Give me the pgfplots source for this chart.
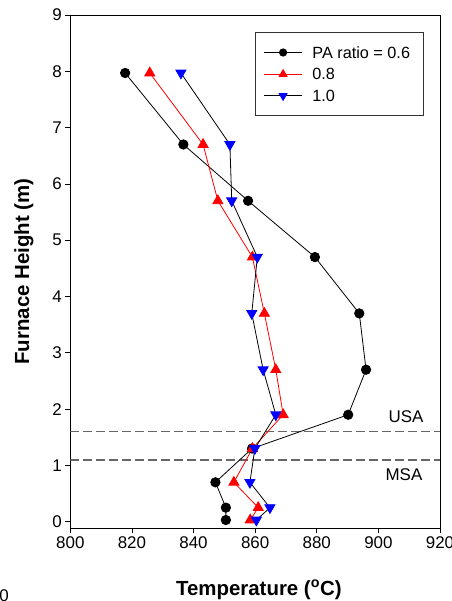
\documentclass[border=0pt]{standalone}
\usepackage{fontspec}
\setmainfont{Liberation Sans}
\usepackage{pgfplots}
\pgfplotsset{compat=1.18}

\definecolor{dashgray}{HTML}{666666}
\definecolor{framegray}{HTML}{333333}

\begin{document}
\begin{tikzpicture}
\path[use as bounding box] (-70.3bp,-72.7bp) rectangle (381.7bp,528.3bp);
\begin{axis}[
  scale only axis,
  width=369.7bp, height=513.3bp,
  xmin=800, xmax=920, ymin=-0.117, ymax=9,
  xtick={800,820,...,920}, ytick={0,1,...,9},
  tick align=outside, xtick pos=left, ytick pos=left,
  major tick length=5bp,
  tick style={black, line width=0.8bp},
  axis line style={black, line width=0.8bp},
  ticklabel style={font=\fontsize{17}{20}\selectfont},
  /pgf/number format/assume math mode=true,
  /pgf/number format/1000 sep={},
  xlabel={Temperature (\textsuperscript{o}C)},
  ylabel={Furnace Height (m)},
  label style={font=\fontsize{20.5}{24}\selectfont\bfseries},
  xlabel style={at={(axis description cs:0.51,-0.13)}, anchor=base},
  ylabel style={at={(axis description cs:-0.1117,0.5)}, anchor=base},
  legend style={at={(rel axis cs:0.4996,0.9661)}, anchor=north west,
    draw=framegray, line width=0.8bp,
    font=\fontsize{16.3}{19}\selectfont,
    inner xsep=8bp, inner ysep=11.2bp, row sep=4.7bp, column sep=8.6bp,
    nodes={inner sep=1bp, text height=13bp, text depth=2bp}},
  legend cell align=left,
  legend image code/.code={\draw[mark repeat=2,mark phase=2,
      /tikz/every mark/.append style={scale=0.78}]
      plot coordinates {(0bp,0bp) (19.3bp,0bp) (38.6bp,0bp)};},
]
% zone boundaries
\addplot[dashgray, line width=1.5bp, dash pattern=on 8.5bp off 4.5bp, forget plot]
  coordinates {(800,1.6) (920,1.6)};
\addplot[dashgray, line width=1.5bp, dash pattern=on 8.5bp off 4.5bp, forget plot]
  coordinates {(800,1.1) (920,1.1)};

% PA ratio = 0.6
\addplot[black, line width=0.8bp, mark=*, mark size=4.7bp, mark options={fill=black, draw=black}]
  coordinates {(817.8,7.97) (836.7,6.70) (857.7,5.70) (879.4,4.70) (893.8,3.70) (896.0,2.70)
               (890.2,1.90) (859.0,1.30) (847.1,0.70) (850.5,0.25) (850.5,0.03)};
\addlegendentry{PA ratio = 0.6\hspace*{4bp}}

% PA ratio = 0.8
\addplot[red, line width=0.8bp, mark=triangle*, mark size=5.8bp, mark options={fill=red, draw=red}]
  coordinates {(825.8,7.97) (843.1,6.70) (847.9,5.70) (859.1,4.70) (863.0,3.70) (866.7,2.70)
               (869.1,1.90) (859.1,1.30) (853.1,0.70) (861.0,0.25) (858.4,0.03)};
\addlegendentry{0.8}

% PA ratio = 1.0
\addplot[black, line width=0.8bp, mark=triangle*, mark size=5.8bp, mark options={fill=blue, draw=blue, rotate=180}]
  coordinates {(835.9,7.97) (851.8,6.70) (852.4,5.70) (860.7,4.70) (858.9,3.70) (862.6,2.70)
               (866.7,1.90) (859.9,1.30) (858.3,0.70) (864.8,0.25) (860.4,0.03)};
\addlegendentry{1.0}

\node[font=\fontsize{17}{20}\selectfont] at (axis cs:909,1.865) {USA};
\node[font=\fontsize{17}{20}\selectfont] at (axis cs:908.3,0.83) {MSA};
\end{axis}
\node[anchor=base west, inner sep=0pt, font=\fontsize{17}{20}\selectfont] at (-71bp,-73.2bp) {0};
\end{tikzpicture}
\end{document}
